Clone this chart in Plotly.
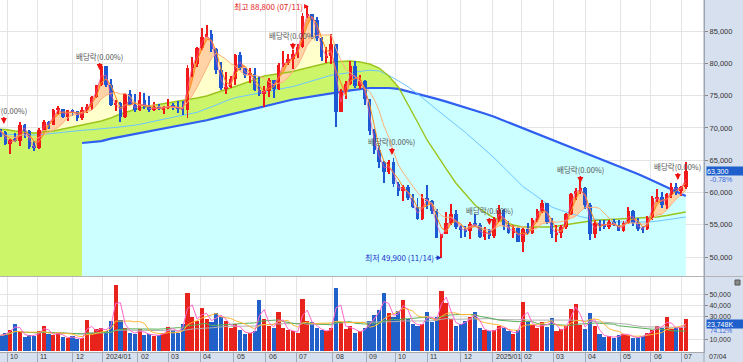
import numpy as np
import pandas as pd
import plotly.graph_objects as go

# ---------------- data ----------------
holidays = [
    "2023-09-28", "2023-09-29", "2023-10-02", "2023-10-03", "2023-10-09", "2023-12-25", "2023-12-29",
    "2024-01-01", "2024-02-09", "2024-02-12", "2024-03-01", "2024-04-10", "2024-05-01", "2024-05-06",
    "2024-05-15", "2024-06-06", "2024-08-15", "2024-09-16", "2024-09-17", "2024-09-18", "2024-10-01",
    "2024-10-03", "2024-10-09", "2024-12-25", "2024-12-31",
    "2025-01-01", "2025-01-27", "2025-01-28", "2025-01-29", "2025-01-30", "2025-03-03", "2025-05-01",
    "2025-05-05", "2025-05-06", "2025-06-03", "2025-06-06",
]
first_candle = "2023-09-19"   # candles every 3 trading days from here (each = 3-day bar)

opens = [70500, 69600, 69400, 67500, 68100, 68000, 70500, 69500, 67000, 66900,
         69600, 70900, 70400, 72800, 72900, 71700, 72700, 72600, 71500, 72800,
         73300, 74800, 76600, 79600, 76600, 73600, 73900, 71700, 75200, 73600,
         72700, 74300, 73200, 72800, 73300, 72900, 73200, 73400, 73300, 72900,
         72800, 79300, 79900, 82400, 84100, 84500, 82200, 78900, 76100, 76300,
         77500, 81300, 79200, 78200, 78400, 75900, 75200, 75700, 77400, 76000,
         79800, 80000, 80600, 81500, 82600, 87400, 87600, 86700, 83900, 80900,
         81200, 83000, 72500, 75500, 76800, 79600, 76500, 77200, 74400, 69500,
         66600, 64700, 63100, 64700, 61300, 60300, 60800, 59200, 57700, 55900,
         59200, 58700, 57100, 53000, 53500, 55300, 56700, 54700, 54200, 54000,
         55200, 55000, 53100, 54200, 53200, 55900, 57300, 55000, 53700, 54500,
         52400, 54300, 53700, 55800, 57100, 58300, 55500, 53500, 53800, 54600,
         56600, 59800, 60300, 60700, 58000, 53500, 55300, 55100, 54700, 55500,
         54900, 54100, 55300, 57200, 55300, 54400, 54300, 56000, 59100, 59300,
         58000, 59700, 60900, 60300, 60800]
highs = [70700, 69800, 69500, 68300, 69200, 70900, 70600, 69600, 67900, 70000,
         71200, 71000, 73000, 73400, 73000, 72800, 73000, 72600, 73300, 73700,
         75000, 76700, 79800, 79600, 77500, 74300, 74000, 75400, 75800, 75300,
         75600, 75400, 75000, 74000, 73700, 73400, 74400, 73900, 74100, 74100,
         79800, 81000, 82500, 85400, 86000, 85100, 82300, 80200, 78700, 78000,
         81500, 81700, 79300, 79300, 79200, 78000, 76500, 77700, 77400, 80100,
         81900, 81500, 82000, 83000, 87800, 88800, 87700, 87100, 84000, 82500,
         84500, 83000, 76000, 77300, 80300, 80300, 78200, 77400, 74400, 69800,
         67200, 64900, 65000, 65400, 61700, 61200, 61200, 59800, 59200, 59700,
         61100, 58800, 57400, 53600, 57000, 58200, 57300, 55000, 54800, 55400,
         56600, 55300, 54700, 54300, 56200, 58000, 57400, 55600, 54900, 54600,
         54500, 55300, 56000, 57500, 58800, 58300, 56100, 55000, 55000, 56800,
         60000, 60700, 61900, 60800, 58300, 55800, 55800, 55700, 55800, 55900,
         55700, 55600, 57800, 57300, 56000, 54800, 56400, 59400, 60500, 60100,
         59900, 61400, 61400, 61000, 64700]
lows = [69400, 68600, 67300, 65900, 67800, 67200, 68500, 66800, 66400, 66800,
        69600, 69900, 70400, 72200, 71600, 71000, 71800, 71000, 71300, 72300,
        72800, 74600, 76500, 76300, 73400, 72600, 70900, 71500, 73500, 72500,
        72600, 73000, 72500, 72600, 72700, 72100, 73000, 72700, 72300, 72000,
        71500, 77900, 79500, 82000, 84000, 81800, 78300, 75900, 75300, 76200,
        76700, 79000, 77700, 77000, 75700, 74900, 73300, 74800, 74700, 75900,
        79400, 79700, 79100, 80800, 82300, 87000, 84100, 83400, 80300, 80000,
        79900, 70100, 72400, 74500, 76600, 76200, 76000, 73600, 68900, 66000,
        63800, 61500, 62900, 60900, 59500, 58700, 58900, 57600, 55700, 55800,
        57400, 56700, 52900, 49900, 53500, 55000, 54400, 53000, 53100, 52800,
        54800, 52900, 52700, 52800, 52900, 55400, 54200, 53600, 52900, 52300,
        50800, 53500, 53600, 55500, 56800, 55100, 53000, 52300, 53000, 54300,
        56500, 58800, 59800, 57500, 52600, 52900, 54000, 54300, 54400, 54800,
        54000, 53900, 55100, 54800, 54100, 53700, 54200, 55800, 58500, 57600,
        57500, 59200, 59600, 59400, 60600]
closes = [69600, 69400, 67500, 68100, 68000, 70500, 69500, 67000, 66900, 69600,
          70900, 70400, 72800, 72900, 71700, 72700, 72600, 71500, 72800, 73300,
          74800, 76600, 79600, 76600, 73600, 73900, 71700, 75200, 73600, 72700,
          74300, 73200, 72800, 73300, 72900, 73200, 73400, 73300, 72900, 72800,
          79300, 79900, 82400, 84100, 84500, 82200, 78900, 76100, 76300, 77500,
          81300, 79200, 78200, 78400, 75900, 75200, 75700, 77400, 76000, 79800,
          80000, 80600, 81500, 82600, 87400, 87600, 86700, 83900, 80900, 81200,
          83000, 72500, 75500, 76800, 79600, 76500, 77200, 74400, 69500, 66600,
          64700, 63100, 64700, 61300, 60300, 60800, 59200, 57700, 55900, 59200,
          58700, 57100, 53000, 53500, 55300, 56700, 54700, 54200, 54000, 55200,
          55000, 53100, 54200, 53200, 55900, 57300, 55000, 53700, 54500, 52400,
          54300, 53700, 55800, 57100, 58300, 55500, 53500, 53800, 54600, 56600,
          59800, 60300, 60700, 58000, 53500, 55300, 55100, 54700, 55500, 54900,
          54100, 55300, 57200, 55300, 54400, 54300, 56000, 59100, 59300, 58000,
          59700, 60900, 60300, 60800, 63300]
volumes_k = [14000, 13000, 16000, 18000, 24000, 17000, 12000, 14000, 13000, 17000,
             22000, 15000, 14000, 16000, 12000, 11000, 13000, 10000, 11000, 27000,
             16000, 19000, 20000, 17000, 26000, 58000, 27000, 20000, 16000, 15000,
             19000, 14000, 15000, 13000, 14000, 16000, 21000, 18000, 16000, 24000,
             51000, 30000, 26000, 38000, 28000, 25000, 33000, 30000, 26000, 20000,
             24000, 18000, 15000, 16000, 17000, 45000, 28000, 22000, 20000, 34000,
             20000, 18000, 17000, 16000, 46000, 26000, 25000, 20000, 18000, 17000,
             20000, 56000, 25000, 19000, 22000, 16000, 17000, 20000, 26000, 32000,
             36000, 51000, 33000, 30000, 35000, 45000, 28000, 24000, 22000, 24000,
             34000, 25000, 30000, 53000, 42000, 28000, 22000, 24000, 26000, 30000,
             34000, 20000, 18000, 17000, 18000, 22000, 20000, 17000, 15000, 18000,
             43000, 25000, 23000, 20000, 25000, 21000, 29000, 17000, 19000, 22000,
             37000, 41000, 23000, 19000, 33000, 22000, 15000, 12000, 13000, 11000,
             14000, 15000, 14000, 11000, 12000, 13000, 16000, 18000, 22000, 20000,
             30000, 19000, 21000, 20000, 28000]

# long moving averages, one value per two candles
ma60 = [69830, 69750, 69520, 69370, 69210, 69370, 69520, 69830, 70140, 70450,
        70760, 71070, 71530, 72150, 72620, 73080, 73390, 73620, 73850, 74090,
        74320, 74630, 74940, 75480, 75940, 76410, 76950, 77490, 78030, 78270,
        78500, 78730, 79120, 79500, 79890, 80200, 80280, 80360, 80200, 79890,
        79270, 78030, 76330, 73700, 70910, 68130, 65800, 63640, 61470, 59770,
        58060, 56980, 56050, 55430, 54970, 54660, 54660, 54660, 54660, 54890,
        55120, 55430, 55590, 55740, 55820, 55900, 55900, 55980, 56050, 56210,
        56440, 56670, 56980]
ma120 = [69060, 69030, 68980, 68950, 68900, 69010, 69180, 69350, 69520, 69630,
         69720, 69830, 69980, 70150, 70330, 70530, 70870, 71210, 71530, 71830,
         72120, 72400, 72940, 73550, 74160, 74690, 74970, 75250, 75530, 75820,
         76110, 76410, 76830, 77260, 77710, 78160, 78370, 78590, 78790, 78930,
         78820, 78130, 77280, 76380, 75280, 74020, 72850, 71670, 70500, 69290,
         67990, 66690, 65360, 63890, 62420, 60930, 59880, 58820, 57760, 57210,
         56750, 56280, 55960, 55790, 55620, 55430, 55430, 55430, 55430, 55560,
         55770, 55990, 56210]
ma240 = [None] * 9 + [
         67660, 67800, 67960, 68340, 68620, 68840, 69120, 69410, 69710, 70000,
         70280, 70570, 70850, 71190, 71550, 71890, 72240, 72620, 72990, 73360,
         73700, 74040, 74400, 74660, 74890, 75140, 75390, 75590, 75800, 76020,
         76180, 76180, 76180, 76050, 75680, 75310, 74940, 74500, 74070, 73640,
         73170, 72690, 72230, 71720, 71130, 70540, 69940, 69370, 68790, 68220,
         67630, 67030, 66420, 65820, 65260, 64690, 64130, 63510, 62860, 62200,
         61500, 60740, 60140, 59460]

month_starts = ["2023-10-01", "2023-11-01", "2023-12-01", "2024-01-01", "2024-02-01", "2024-03-01",
                "2024-04-01", "2024-05-01", "2024-06-01", "2024-07-01", "2024-08-01", "2024-09-01",
                "2024-10-01", "2024-11-01", "2024-12-01", "2025-01-01", "2025-02-01", "2025-03-01",
                "2025-04-01", "2025-05-01", "2025-06-01", "2025-07-01"]
month_labels = ["10", "11", "12", "2024/01", "02", "03", "04", "05", "06", "07", "08", "09",
                "10", "11", "12", "2025/01", "02", "03", "04", "05", "06", "07"]

exdiv_dates = ["2023-09-26", "2023-12-27", "2024-06-27", "2024-09-27", "2024-12-27", "2025-03-27", "2025-06-27"]
exdiv_tip = [70600, 78960, 82060, 65800, 54970, 61470, 61930]
exdiv_text = "배당락(0.00%)"
high_date, high_val, high_text = "2024-07-11", 88800, "최고 88,800 (07/11)"
low_date, low_val, low_text = "2024-11-14", 49900, "최저 49,900 (11/14)"
last_price_text, last_chg_text = "63,300", "-0.78%"
last_vol_k, last_vol_text, last_vol_ratio = 23748, "23,748K", "74.12%"
last_date_text = "07/04"

# ---------------- trading-day axis ----------------
cal = pd.bdate_range("2023-09-01", "2025-08-29")
cal = cal[~cal.isin(pd.to_datetime(holidays))]
origin = int(cal.searchsorted(pd.Timestamp("2023-10-04")))


def tidx(d):
    return int(cal.searchsorted(pd.Timestamp(d))) - origin


start = int(cal.searchsorted(pd.Timestamp(first_candle)))
candle_dates = cal[start::3][:len(closes)]
xk = np.array([tidx(d) for d in candle_dates], dtype=float)
xj = xk[::2]
mx = [tidx(m) for m in month_starts]

# ---------------- styles ----------------
RED = "#f01818"
BLUE = "#1c58d4"
VRED = "#e8231b"
VBLUE = "#2060c8"
CYAN = "#ccffff"
YG = "#cdf56a"
CREAM = "#ffffcc"
LORANGE = "#ffd3a6"
ORANGE = "#ffa552"
PANEL = "#d7e0ee"
GRID = "#e4e4e4"
KFONT = "Noto Sans CJK KR, DejaVu Sans, sans-serif"
NFONT = "Liberation Sans Narrow, Liberation Sans, Arial, sans-serif"

P_LO, P_HI = 47074, 89799
V_LO, V_HI = -1240, 65400
H = 352.0
W = 704.0

cs = pd.Series(closes, dtype=float)
ma5 = cs.rolling(2, min_periods=1).mean().to_numpy()
ma10 = cs.rolling(3, min_periods=1).mean().to_numpy()
ma20 = cs.rolling(7, min_periods=1).mean().to_numpy()
m60 = np.array(ma60, float)
m120 = np.array(ma120, float)
m240 = np.array([np.nan if v is None else v for v in ma240], float)
ma20j = ma20[::2]
s240 = 9  # first index where the 240 line exists

fig = go.Figure()


def add_line(x, y, color, w, yaxis="y", fill=None, fillcolor=None):
    fig.add_trace(go.Scatter(x=x, y=y, mode="lines", yaxis=yaxis,
                             line=dict(color=color, width=w), fill=fill, fillcolor=fillcolor,
                             hoverinfo="skip", showlegend=False))


NOL = "rgba(0,0,0,0)"
# fills
add_line(xj[:s240 + 1], m60[:s240 + 1], NOL, 0, fill="tozeroy", fillcolor=YG)
add_line(xj[s240:], m240[s240:], NOL, 0, fill="tozeroy", fillcolor=CYAN)
add_line(xj[s240:], m240[s240:], NOL, 0)
add_line(xj[s240:], np.maximum(m60, m240)[s240:], NOL, 0, fill="tonexty", fillcolor=YG)
cream_up = np.where((ma20j > m60) & ~(m60 < m240), ma20j, m60)
add_line(xj, m60, NOL, 0)
add_line(xj, cream_up, NOL, 0, fill="tonexty", fillcolor=CREAM)
add_line(xk, ma20, NOL, 0)
add_line(xk, np.where(ma10 > ma20, ma10, ma20), NOL, 0, fill="tonexty", fillcolor=LORANGE)
add_line(xk, ma10, NOL, 0)
add_line(xk, np.where(ma5 > ma10, ma5, ma10), NOL, 0, fill="tonexty", fillcolor=ORANGE)

# long moving-average lines (under candles)
add_line(xj[s240:], m240[s240:], "#2f5ff0", 2.2)
add_line(xj, m120, "#6cc6ff", 1)
add_line(xj, m60, "#9bc41c", 1.4)

# candles (wick + body bars) on an overlaid axis so they sit above the fills
o = np.array(opens, float)
c = np.array(closes, float)
hi = np.array(highs, float)
lo = np.array(lows, float)
ccol = [RED if cc >= oo else BLUE for oo, cc in zip(o, c)]
fig.add_trace(go.Bar(x=xk, base=lo, y=hi - lo, width=0.6, yaxis="y3",
                     marker=dict(color=ccol, line=dict(width=0)), hoverinfo="skip", showlegend=False))
fig.add_trace(go.Bar(x=xk, base=np.minimum(o, c), y=np.maximum(np.abs(c - o), 150), width=2.2, yaxis="y3",
                     marker=dict(color=ccol, line=dict(width=0)), hoverinfo="skip", showlegend=False))
# short moving-average lines over the candles
add_line(xk, ma20, "#ffb07a", 1, yaxis="y3")
add_line(xk, ma10, "#ff8a1e", 1, yaxis="y3")
add_line(xk, ma5, "#ff4d9a", 0.7, yaxis="y3")

# volume
vcol = [VRED if cc >= oo else VBLUE for oo, cc in zip(opens, closes)]
fig.add_trace(go.Bar(x=xk, y=volumes_k, yaxis="y2", width=2.6,
                     marker=dict(color=vcol, line=dict(width=0)), hoverinfo="skip", showlegend=False))
vs = pd.Series(volumes_k, dtype=float)
add_line(xk, vs.rolling(40, min_periods=1).mean(), "#b0b0b0", 1, yaxis="y2")
add_line(xk, vs.rolling(20, min_periods=1).mean(), "#58b058", 1, yaxis="y2")
add_line(xk, vs.rolling(7, min_periods=1).mean(), "#ffb733", 1, yaxis="y2")
add_line(xk, vs.rolling(2, min_periods=1).mean(), "#ff66cc", 1, yaxis="y2")

# ---------------- annotations ----------------
ann = []
for d, tip in zip(exdiv_dates, exdiv_tip):
    ann.append(dict(x=tidx(d), y=tip, xref="x", yref="y", text=exdiv_text, showarrow=True,
                    arrowhead=2, arrowsize=0.8, arrowwidth=1.5, arrowcolor="#ee1111", ax=0, ay=-14,
                    font=dict(family=KFONT, size=7.5, color="#555555")))
ann.append(dict(x=tidx(high_date), y=high_val, xref="x", yref="y", text=high_text, showarrow=True,
                arrowhead=2, arrowsize=0.8, arrowwidth=1.2, arrowcolor="#ee1111", ax=-40, ay=0,
                font=dict(family=KFONT, size=8, color="#e42020")))
ann.append(dict(x=tidx(low_date), y=low_val, xref="x", yref="y", text=low_text, showarrow=True,
                arrowhead=2, arrowsize=0.8, arrowwidth=1.2, arrowcolor="#2233cc", ax=-42, ay=0,
                font=dict(family=KFONT, size=8, color="#2233cc")))
for m, lab in zip(mx, month_labels):
    ann.append(dict(x=m, y=0, xref="x", yref="paper", text=lab, showarrow=False,
                    xanchor="left", yanchor="top", xshift=1, yshift=1,
                    font=dict(family=NFONT, size=7, color="#333333")))
ann.append(dict(x=1, y=0, xref="paper", yref="paper", text=last_date_text, showarrow=False,
                xanchor="left", yanchor="top", xshift=3, yshift=1,
                font=dict(family=NFONT, size=7, color="#333333")))
ann.append(dict(x=1, y=closes[-1], xref="paper", yref="y", text=last_price_text, showarrow=False,
                xanchor="left", yanchor="middle", xshift=2, width=36, height=8, align="left",
                bgcolor="#1f5fcc", borderpad=0, font=dict(family=NFONT, size=7, color="white")))
ann.append(dict(x=1, y=closes[-1], xref="paper", yref="y", text=last_chg_text, showarrow=False,
                xanchor="left", yanchor="middle", xshift=4, yshift=-8,
                font=dict(family=NFONT, size=7, color="#3366dd")))
ann.append(dict(x=1, y=last_vol_k, xref="paper", yref="y2", text=last_vol_text, showarrow=False,
                xanchor="left", yanchor="middle", xshift=2, width=36, height=8, align="left",
                bgcolor="#1f5fcc", borderpad=0, font=dict(family=NFONT, size=7, color="white")))
ann.append(dict(x=1, y=last_vol_k, xref="paper", yref="y2", text=last_vol_ratio, showarrow=False,
                xanchor="left", yanchor="middle", xshift=4, yshift=-7,
                font=dict(family=NFONT, size=6.5, color="#3366dd")))

xr = 743 / W
shapes = [
    dict(type="rect", xref="paper", yref="paper", x0=1, x1=xr, y0=-10 / H, y1=1,
         fillcolor=PANEL, line=dict(width=0), layer="below"),
    dict(type="rect", xref="paper", yref="paper", x0=0, x1=1, y0=-10 / H, y1=0,
         fillcolor=PANEL, line=dict(width=0), layer="below"),
    dict(type="line", xref="paper", yref="paper", x0=0, x1=xr, y0=75.5 / H, y1=75.5 / H,
         line=dict(color="#b4b4b4", width=1)),
    dict(type="line", xref="paper", yref="paper", x0=1, x1=1, y0=-10 / H, y1=1,
         line=dict(color="#9aa4b2", width=1)),
    dict(type="rect", xref="paper", yref="paper", x0=1 + 31 / W, x1=1 + 36 / W,
         y0=(H - 285) / H, y1=(H - 280) / H, fillcolor="#8a8a8a", line=dict(color="#555", width=1)),
]

fig.update_layout(
    width=743, height=362, margin=dict(l=0, r=39, t=0, b=10),
    paper_bgcolor="white", plot_bgcolor="white", showlegend=False, barmode="overlay",
    xaxis=dict(range=[-4.4, 436.4], anchor="y2", tickvals=mx, showticklabels=False,
               ticks="outside", ticklen=10, tickcolor="#a0aabb", showgrid=True, gridcolor=GRID,
               zeroline=False, showline=True, linecolor="#a8a8a8", fixedrange=True),
    yaxis=dict(domain=[76 / H, 1], range=[P_LO, P_HI], side="right", anchor="x",
               tick0=50000, dtick=5000, tickformat=",d", ticks="outside", ticklen=3, tickcolor="#888",
               tickfont=dict(family=NFONT, size=7.5, color="#333"), showgrid=True, gridcolor=GRID,
               zeroline=False, showline=True, linecolor="#9aa4b2", fixedrange=True),
    yaxis3=dict(overlaying="y", range=[P_LO, P_HI], side="right", anchor="x", visible=False,
                showgrid=False, fixedrange=True),
    yaxis2=dict(domain=[0, 75 / H], range=[V_LO, V_HI], side="right", anchor="x",
                tickvals=[10000, 30000, 40000, 50000], tickformat=",d", ticksuffix="K",
                ticks="outside", ticklen=3, tickcolor="#888",
                tickfont=dict(family=NFONT, size=7, color="#333"), showgrid=True, gridcolor=GRID,
                zeroline=False, showline=True, linecolor="#9aa4b2", fixedrange=True),
    annotations=ann, shapes=shapes, bargap=0,
)

fig.write_html("out.html", config={"displayModeBar": False},
               post_script="document.body.style.margin='0';document.body.style.overflow='hidden';")
